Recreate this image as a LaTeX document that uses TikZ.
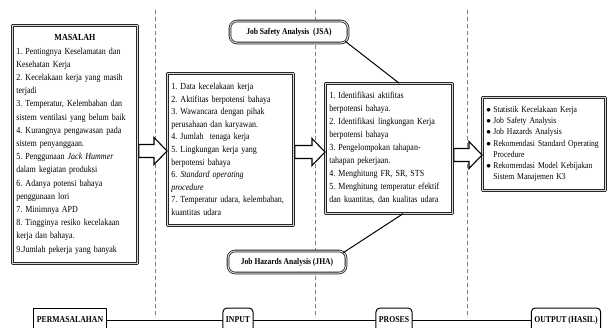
\documentclass[tikz,border=0pt]{standalone}
\usepackage{fontspec}
\setmainfont[FakeStretch=0.86]{Liberation Serif}
\usetikzlibrary{calc}
\frenchspacing

% panah blok dari kotak #1 ke kotak #2 pada ketinggian #3
\newcommand{\panahblok}[3]{%
  \path (#1.east |- 0,#3) coordinate (pa)
        (#2.west |- 0,#3) coordinate (pb);
  \draw[panah]
    ($(pa)+(1,-6.5)$) -- ($(pb)+(-13,-6.5)$) -- ($(pb)+(-13,-13.5)$)
    -- (pb) -- ($(pb)+(-13,13.5)$) -- ($(pb)+(-13,6.5)$)
    -- ($(pa)+(1,6.5)$) -- cycle;
}

\begin{document}
\begin{tikzpicture}[
  x=1pt, y=-1pt,
  line cap=round,
  line join=round,
  kotak/.style={
    draw=black!85, line width=0.8pt,
    double=gray!30, double distance=1pt,
    fill=white, anchor=north west, align=left, inner sep=4pt
  },
  judul/.style={
    draw=black!85, line width=0.8pt,
    double=gray!30, double distance=1pt,
    fill=white, rounded corners=7pt,
    minimum width=118pt, minimum height=22pt,
    font=\fontsize{8.8}{9}\selectfont\bfseries
  },
  panah/.style={draw=black, line width=1.1pt, fill=white, line join=miter},
  tahap/.style={
    draw=black, line width=1pt, fill=white,
    minimum height=24pt, inner sep=3pt,
    font=\fontsize{9}{9}\selectfont\bfseries
  },
  batas/.style={gray, dash pattern=on 4pt off 3pt, line width=0.5pt}
]
  \useasboundingbox (0,0) rectangle (613,327);

  % Garis batas tahap
  \draw[batas] (155,10) -- (155,318);
  \draw[batas] (315,10) -- (315,318);
  \draw[batas] (467,10) -- (467,318);

  % Kotak masalah
  \node[kotak, text width=117pt, minimum height=238pt,
        font=\fontsize{9.3}{13.2}\selectfont]
    (mas) at (12,25) {%
    \makebox[117pt]{\textbf{MASALAH}}\\
    1. Pentingnya Keselamatan dan\\
    Kesehatan Kerja\\
    2. Kecelakaan kerja yang masih\\
    terjadi\\
    3. Temperatur, Kelembaban dan\\
    sistem ventilasi yang belum baik\\
    4. Kurangnya pengawasan pada\\
    sistem penyanggaan.\\
    5. Penggunaan \textit{Jack Hummer}\\
    dalam kegiatan produksi\\
    6. Adanya potensi bahaya\\
    penggunaan lori\\
    7. Minimnya APD\\
    8. Tingginya resiko kecelakaan\\
    kerja dan bahaya.\\
    9.Jumlah pekerja yang banyak};

  % Kotak input
  \node[kotak, text width=118pt, minimum height=152pt,
        font=\fontsize{9.3}{12.6}\selectfont]
    (inp) at (167,73) {%
    1. Data kecelakaan kerja\\
    2. Aktifitas berpotensi bahaya\\
    3. Wawancara dengan pihak\\
    perusahaan dan karyawan.\\
    4. Jumlah\ \ tenaga kerja\\
    5. Lingkungan kerja yang\\
    berpotensi bahaya\\
    6. \textit{Standard operating}\\
    \textit{procedure}\\
    7. Temperatur udara, kelembaban,\\
    kuantitas udara};

  % Kotak proses
  \node[kotak, text width=119pt, minimum height=130pt,
        font=\fontsize{9.3}{13}\selectfont]
    (pro) at (325,83) {%
    1. Identifikasi aktifitas\\
    berpotensi bahaya.\\
    2. Identifikasi lingkungan Kerja\\
    berpotensi bahaya\\
    3. Pengelompokan tahapan-\\
    tahapan pekerjaan.\\
    4. Menghitung FR, SR, STS\\
    5. Menghitung temperatur efektif\\
    dan kuantitas, dan kualitas udara};

  % Kotak output
  \node[kotak, text width=115pt, minimum height=93pt,
        font=\fontsize{8.9}{11.3}\selectfont]
    (out) at (482,97) {%
    \makebox[7pt][l]{$\bullet$}Statistik Kecelakaan Kerja\\
    \makebox[7pt][l]{$\bullet$}Job Safety Analysis\\
    \makebox[7pt][l]{$\bullet$}Job Hazards Analysis\\
    \makebox[7pt][l]{$\bullet$}Rekomendasi Standard Operating\\
    \hspace*{7pt}Procedure\\
    \makebox[7pt][l]{$\bullet$}Rekomendasi Model Kebijakan\\
    \hspace*{7pt}Sistem Manajemen K3};

  % JSA dan JHA
  \node[judul] (jsa) at (289,32) {Job Safety Analysis\ \ (JSA)};
  \node[judul] (jha) at (287,262) {Job Hazards Analysis (JHA)};

  \draw[line width=1pt]
    ([xshift=-3pt,yshift=2pt]jsa.south east) -- ([xshift=10pt]pro.north);

  \draw[line width=1pt]
    ([xshift=14pt]pro.south) -- ([xshift=-3pt,yshift=-2pt]jha.north east);

  % Panah antar kotak
  \panahblok{mas}{inp}{151}
  \panahblok{inp}{pro}{152}
  \panahblok{pro}{out}{155}

  % Baris tahap
  \node[tahap] (bmas) at (70,320) {PERMASALAHAN};
  \node[tahap, rounded corners=4pt] (binp) at (238,320) {INPUT};
  \node[tahap, rounded corners=4pt] (bpro) at (394,320) {PROSES};
  \node[tahap, rounded corners=4pt] (bout) at (566,320) {OUTPUT (HASIL)};

  \draw[line width=1pt] (bmas) -- (binp);
  \draw[line width=1pt] (binp) -- (bpro);
  \draw[line width=1pt] (bpro) -- (bout);
\end{tikzpicture}
\end{document}
